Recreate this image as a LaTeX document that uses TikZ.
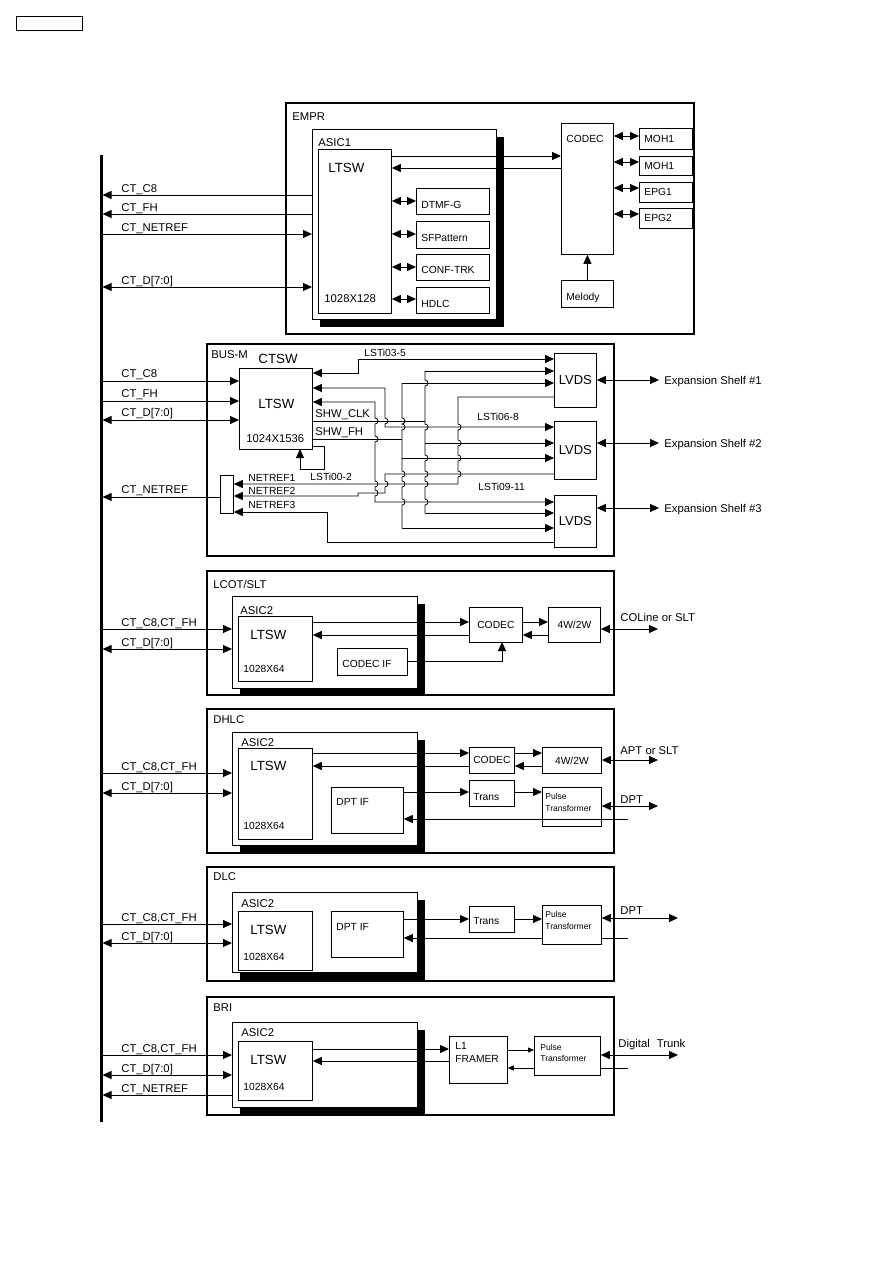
\documentclass[tikz,border=0pt]{standalone}
\usepackage{fontspec}
\setmainfont{Liberation Sans}
\usetikzlibrary{arrows.meta}
\newcommand\bx[6][bx]{\node[#1, anchor=north west, minimum width={(#5-#3)*1pt}, minimum height={(#6-#4)*1pt}] (#2) at (#3,#4) {};}
\newcommand\shd[4]{\fill (#1+8,#2+8) rectangle (#3+8,#4+8);}
\begin{document}
\begin{tikzpicture}[x=1pt,y=-1pt,line width=0.8pt]
\tikzset{
 bx/.style={draw, line width=0.8pt, fill=white, inner sep=0},
 board/.style={draw, line width=1.8pt, inner sep=0},
 ar/.style={-{Triangle[length=9pt,width=8pt]}},
 dar/.style={{Triangle[length=9pt,width=8pt]}-{Triangle[length=9pt,width=8pt]}},
 sar/.style={-{Triangle[length=6pt,width=5pt]}},
 lb/.style={font=\fontsize{11.3}{13}\selectfont, inner sep=0, anchor=base west},
 sm/.style={font=\fontsize{10.3}{12}\selectfont, inner sep=0, anchor=base west},
 smc/.style={font=\fontsize{10.3}{12}\selectfont, inner sep=0},
 big/.style={font=\fontsize{13.3}{15}\selectfont, inner sep=0, anchor=base west},
 bigc/.style={font=\fontsize{13}{15}\selectfont, inner sep=0},
 tiny/.style={font=\fontsize{8.5}{10}\selectfont, inner sep=0, anchor=base west},
}
\useasboundingbox (0,0) rectangle (893,1263);
\bx[draw,line width=1.4pt,inner sep=0]{hdr}{16}{16}{82}{30}
% main bus
\coordinate (bus) at (102.5,0);
\draw[line width=3pt] (101,155) -- (101,1122);

% ================= EMPR
\bx[board]{empr}{285}{102}{693}{333}
\node[lb] (tEMPR) at (292,120) {EMPR};
\shd{312}{129}{496}{319}
\bx{asic1}{312}{129}{496}{319}
\node[lb] (tASIC1) at (318,146) {ASIC1};
\bx{ltswA}{318}{149}{391}{313}
\node[big] (tLA) at (328,172) {LTSW};
\node[lb] (tSzA) at (324,302) {1028X128};
\bx{dtmf}{416}{188}{489}{214}
\bx{sfp}{416}{221}{489}{248}
\bx{conf}{416}{254}{489}{280}
\bx{hdlc}{416}{287}{489}{313}
\node[sm] at (421,208) {DTMF-G};
\node[sm] at (421,241) {SFPattern};
\node[sm] at (421,273) {CONF-TRK};
\node[sm] at (421,307) {HDLC};
\bx{codecA}{561}{123}{613}{254}
\node[sm] at (566,142) {CODEC};
\bx{melody}{561}{280}{613}{307}
\node[sm] at (566,300) {Melody};
\bx{mohA}{639}{128}{692}{149}
\bx{mohB}{639}{156}{692}{175}
\bx{epgA}{639}{182}{692}{202}
\bx{epgB}{639}{208}{692}{228}
\node[sm] at (644,142) {MOH1};
\node[sm] at (644,169) {MOH1};
\node[sm] at (644,195) {EPG1};
\node[sm] at (644,221) {EPG2};
\draw[ar] (ltswA.east|-0,156) -- (codecA.west|-0,156);
\draw[ar] (codecA.west|-0,168) -- (ltswA.east|-0,168);
\draw[dar] (ltswA.east|-0,201) -- (dtmf.west|-0,201);
\draw[dar] (ltswA.east|-0,234) -- (sfp.west|-0,234);
\draw[dar] (ltswA.east|-0,267) -- (conf.west|-0,267);
\draw[dar] (ltswA.east|-0,299) -- (hdlc.west|-0,299);
\draw[ar] (melody.north) -- (codecA.south);
\draw[dar] (codecA.east|-0,136) -- (mohA.west|-0,136);
\draw[dar] (codecA.east|-0,162) -- (mohB.west|-0,162);
\draw[dar] (codecA.east|-0,188) -- (epgA.west|-0,188);
\draw[dar] (codecA.east|-0,214) -- (epgB.west|-0,214);
\draw[ar] (asic1.west|-0,195) -- (bus|-0,195);
\draw[ar] (asic1.west|-0,214) -- (bus|-0,214);
\draw[ar] (bus|-0,234) -- (asic1.west|-0,234);
\draw[dar] (bus|-0,287) -- (asic1.west|-0,287);
\node[lb] at (121,192) {CT\_C8};
\node[lb] at (121,211) {CT\_FH};
\node[lb] at (121,231) {CT\_NETREF};
\node[lb] at (121,284) {CT\_D[7:0]};

% ================= BUS-M
\bx[board]{busm}{206}{343}{613}{555}
\node[lb] at (211,358) {BUS-M};
\node[big] at (258,363) {CTSW};
\bx{ltswB}{239}{368}{312}{449}
\node[big] at (258,408) {LTSW};
\node[lb] at (246,442) {1024X1536};
\bx{mux}{220}{475}{233}{513}
\bx{lvdsA}{554}{353}{596}{407}
\bx{lvdsB}{554}{421}{596}{479}
\bx{lvdsC}{554}{495}{596}{547}
\node[bigc] at (lvdsA.center) {LVDS};
\node[bigc] at (lvdsB.center) {LVDS};
\node[bigc] at (lvdsC.center) {LVDS};
\draw[ar] (bus|-0,381) -- (ltswB.west|-0,381);
\draw[ar] (bus|-0,401) -- (ltswB.west|-0,401);
\draw[dar] (bus|-0,420) -- (ltswB.west|-0,420);
\draw[ar] (mux.west|-0,497) -- (bus|-0,497);
\node[lb] at (121,377) {CT\_C8};
\node[lb] at (121,397) {CT\_FH};
\node[lb] at (121,416) {CT\_D[7:0]};
\node[lb] at (121,493) {CT\_NETREF};
\draw[dar] (lvdsA.east|-0,380) -- (659,380);
\draw[dar] (lvdsB.east|-0,443) -- (659,443);
\draw[dar] (lvdsC.east|-0,508) -- (659,508);
\node[lb] at (664,384) {Expansion Shelf \#1};
\node[lb] at (664,447) {Expansion Shelf \#2};
\node[lb] at (664,512) {Expansion Shelf \#3};
% LSTi03-5
\draw[dar] (ltswB.east|-0,373) -- (358,373) -- (358,359) -- (lvdsA.west|-0,359);
% LSTi06-8
\draw[dar] (ltswB.east|-0,388) -- (385,388) -- (385,418) arc[start angle=-90,end angle=90,radius=3] -- (385,427) -- (lvdsB.west|-0,427);
% LSTi09-11
\draw[dar] (ltswB.east|-0,402) -- (375,402) \foreach \h in {421,439,484,493} { -- (375,\h-3) arc[start angle=-90,end angle=90,radius=3] } -- (375,502) -- (lvdsC.west|-0,502);
% SHW_CLK
\draw (ltswB.east|-0,421) -- (425,421);
\draw (425,371) \foreach \h in {383,427,458,474,484,502} { -- (425,\h-3) arc[start angle=-90,end angle=90,radius=3] } -- (425,513);
\draw[ar] (425,371) -- (lvdsA.west|-0,371);
\draw[ar] (425,443) -- (lvdsB.west|-0,443);
\draw[ar] (425,513) -- (lvdsC.west|-0,513);
% SHW_FH
\draw (ltswB.east|-0,439) -- (402,439);
\draw (402,383) \foreach \h in {421,427,474,484,502} { -- (402,\h-3) arc[start angle=-90,end angle=90,radius=3] } -- (402,528);
\draw[ar] (402,383) -- (lvdsA.west|-0,383);
\draw[ar] (402,458) -- (lvdsB.west|-0,458);
\draw[ar] (402,528) -- (lvdsC.west|-0,528);
% NETREF1
\draw[ar] (lvdsA.west|-0,397) -- (458,397) \foreach \h in {427,443,458,474} { -- (458,\h-3) arc[start angle=-90,end angle=90,radius=3] } -- (458,484) -- (mux.east|-0,484);
% NETREF2
\draw[ar] (lvdsB.west|-0,474) -- (385,474) -- (385,481) arc[start angle=-90,end angle=90,radius=3] -- (385,493) -- (358,493) -- (358,496) -- (mux.east|-0,496);
% NETREF3
\draw[ar] (lvdsC.west|-0,542) -- (327,542) -- (327,512) -- (mux.east|-0,512);
% LSTi00-2
\draw[ar] (ltswB.east|-0,446) -- (324,446) -- (324,469) -- (300,469) -- (300,449);
\node[lb] at (315,417) {SHW\_CLK};
\node[lb] at (315,435) {SHW\_FH};
\node[sm] at (310,480) {LSTi00-2};
\node[sm] at (364,356) {LSTi03-5};
\node[sm] at (477,420) {LSTi06-8};
\node[sm] at (478,490) {LSTi09-11};
\node[sm] at (248,481) {NETREF1};
\node[sm] at (248,494) {NETREF2};
\node[sm] at (248,508) {NETREF3};

% ================= LCOT/SLT
\bx[board]{lcot}{206}{570}{613}{694}
\node[lb] at (213,588) {LCOT/SLT};
\shd{232}{596}{417}{688}
\bx{asicC}{232}{596}{417}{688}
\node[lb] at (240,614) {ASIC2};
\bx{ltswC}{238}{616}{312}{681}
\node[big] at (250,639) {LTSW};
\node[sm] at (243,672) {1028X64};
\bx{codecif}{337}{648}{407}{675}
\node[sm] at (342,667) {CODEC IF};
\bx{codecC}{469}{607}{522}{642}
\node[smc] at (codecC.center) {CODEC};
\bx{wC}{548}{607}{600}{642}
\node[smc] at (wC.center) {4W/2W};
\draw[ar] (ltswC.east|-0,622) -- (codecC.west|-0,622);
\draw[ar] (codecC.west|-0,635) -- (ltswC.east|-0,635);
\draw[ar] (codecif.east|-0,661) -- (502,661) -- (502,642);
\draw[ar] (codecC.east|-0,622) -- (wC.west|-0,622);
\draw[ar] (wC.west|-0,635) -- (codecC.east|-0,635);
\draw[dar] (wC.east|-0,629) -- (658,629);
\node[lb] at (620,621) {COLine or SLT};
\draw[ar] (bus|-0,629) -- (asicC.west|-0,629);
\draw[dar] (bus|-0,649) -- (asicC.west|-0,649);
\node[lb] at (121,626) {CT\_C8,CT\_FH};
\node[lb] at (121,646) {CT\_D[7:0]};

% ================= DHLC
\bx[board]{dhlc}{206}{708}{613}{852}
\node[lb] at (213,723) {DHLC};
\shd{232}{732}{417}{845}
\bx{asicD}{232}{732}{417}{845}
\node[lb] at (241,746) {ASIC2};
\bx{ltswD}{238}{748}{312}{839}
\node[big] at (250,770) {LTSW};
\node[sm] at (243,829) {1028X64};
\bx{dptD}{331}{787}{403}{833}
\node[sm] at (336,805) {DPT IF};
\bx{codecD}{469}{747}{514}{773}
\node[smc] at (codecD.center) {CODEC};
\bx{wD}{542}{747}{601}{773}
\node[smc] at (wD.center) {4W/2W};
\bx{transD}{469}{780}{514}{806}
\node[sm] at (473,800) {Trans};
\bx{pulseD}{542}{787}{601}{826}
\node[tiny] at (545,799) {Pulse};
\node[tiny] at (545,811) {Transformer};
\draw[ar] (ltswD.east|-0,753) -- (codecD.west|-0,753);
\draw[ar] (codecD.west|-0,766) -- (ltswD.east|-0,766);
\draw[ar] (codecD.east|-0,753) -- (wD.west|-0,753);
\draw[ar] (wD.west|-0,766) -- (codecD.east|-0,766);
\draw[dar] (wD.east|-0,760) -- (658,760);
\node[lb] at (620,754) {APT or SLT};
\draw[ar] (dptD.east|-0,792) -- (transD.west|-0,792);
\draw[ar] (transD.east|-0,792) -- (pulseD.west|-0,792);
\draw[dar] (pulseD.east|-0,806) -- (658,806);
\node[lb] at (620,803) {DPT};
\draw[ar] (628,819) -- (dptD.east|-0,819);
\draw[ar] (bus|-0,773) -- (asicD.west|-0,773);
\draw[dar] (bus|-0,793) -- (asicD.west|-0,793);
\node[lb] at (121,770) {CT\_C8,CT\_FH};
\node[lb] at (121,790) {CT\_D[7:0]};

% ================= DLC
\bx[board]{dlc}{206}{866}{613}{980}
\node[lb] at (213,880) {DLC};
\shd{232}{892}{417}{972}
\bx{asicE}{232}{892}{417}{972}
\node[lb] at (241,907) {ASIC2};
\bx{ltswE}{238}{911}{312}{970}
\node[big] at (250,934) {LTSW};
\node[sm] at (243,960) {1028X64};
\bx{dptE}{331}{911}{403}{957}
\node[sm] at (336,930) {DPT IF};
\draw[ar] (628,938) -- (dptE.east|-0,938);
\bx{transE}{469}{906}{514}{932}
\node[sm] at (473,924) {Trans};
\bx{pulseE}{542}{905}{601}{944}
\node[tiny] at (545,917) {Pulse};
\node[tiny] at (545,929) {Transformer};
\draw[ar] (dptE.east|-0,919) -- (transE.west|-0,919);
\draw[ar] (transE.east|-0,919) -- (pulseE.west|-0,919);
\draw[dar] (pulseE.east|-0,918) -- (678,918);
\node[lb] at (620,914) {DPT};
\draw[ar] (bus|-0,924) -- (asicE.west|-0,924);
\draw[dar] (bus|-0,943) -- (asicE.west|-0,943);
\node[lb] at (121,921) {CT\_C8,CT\_FH};
\node[lb] at (121,940) {CT\_D[7:0]};

% ================= BRI
\bx[board]{bri}{206}{996}{613}{1114}
\node[lb] at (213,1011) {BRI};
\shd{232}{1022}{417}{1107}
\bx{asicF}{232}{1022}{417}{1107}
\node[lb] at (241,1036) {ASIC2};
\bx{ltswF}{238}{1041}{312}{1100}
\node[big] at (250,1064) {LTSW};
\node[sm] at (243,1090) {1028X64};
\bx{lone}{449}{1036}{507}{1083}
\node[sm] at (455,1049) {L1};
\node[sm] at (455,1062) {FRAMER};
\bx{pulseF}{534}{1036}{600}{1075}
\node[tiny] at (540,1050) {Pulse};
\node[tiny] at (540,1061) {Transformer};
\draw[ar] (ltswF.east|-0,1049) -- (lone.west|-0,1049);
\draw[ar] (lone.west|-0,1061) -- (ltswF.east|-0,1061);
\draw[sar] (lone.east|-0,1050) -- (pulseF.west|-0,1050);
\draw[sar] (pulseF.west|-0,1068) -- (lone.east|-0,1068);
\draw[dar] (pulseF.east|-0,1055) -- (678,1055);
\draw (628,1068) -- (pulseF.east|-0,1068);
\node[lb] at (618,1047) {Digital\hspace{7pt}Trunk};
\draw[ar] (bus|-0,1055) -- (asicF.west|-0,1055);
\draw[dar] (bus|-0,1075) -- (asicF.west|-0,1075);
\draw[ar] (asicF.west|-0,1095) -- (bus|-0,1095);
\node[lb] at (121,1052) {CT\_C8,CT\_FH};
\node[lb] at (121,1072) {CT\_D[7:0]};
\node[lb] at (121,1092) {CT\_NETREF};
\end{tikzpicture}
\end{document}
